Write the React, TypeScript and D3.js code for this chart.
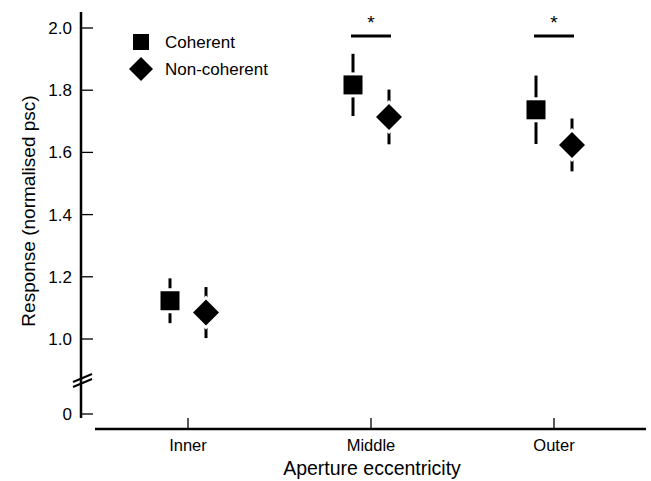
import React from 'react';
import * as d3 from 'd3';

const categories = ['Inner', 'Middle', 'Outer'];
const coherentMean = [1.123, 1.817, 1.737];
const coherentErr = [0.072, 0.1, 0.11];
const nonCoherentMean = [1.085, 1.714, 1.624];
const nonCoherentErr = [0.082, 0.088, 0.085];
const yTicks = [1.0, 1.2, 1.4, 1.6, 1.8, 2.0];
const significant = ['Middle', 'Outer'];

const W = 651;
const H = 481;
const font = '"Liberation Sans", Arial, Helvetica, sans-serif';

const App = () => {
  const axisX = 81;
  const axisY = 429;
  const zeroY = 414;

  const x = d3.scalePoint<string>().domain(categories).range([188, 554]);
  const y = d3.scaleLinear().domain([1.0, 2.0]).range([339, 28]);
  const offset = 18;
  const sq = 19;
  const dm = 13;

  const errBar = (cx: number, m: number, e: number, key: string) => (
    <line key={key} x1={cx} x2={cx} y1={y(m + e)} y2={y(m - e)} stroke="#000" strokeWidth={3} />
  );

  return (
    <div style={{ position: 'fixed', left: 0, top: 0 }}>
      <svg width={W} height={H} style={{ display: 'block', background: '#fff' }} fontFamily={font}>
        {/* y axis */}
        <line x1={axisX} x2={axisX} y1={12} y2={418} stroke="#000" strokeWidth={2.5} />
        {yTicks.map(t => (
          <g key={t}>
            <line x1={axisX} x2={axisX + 12} y1={y(t)} y2={y(t)} stroke="#000" strokeWidth={1.3} />
            <text x={72} y={y(t)} dy="0.35em" textAnchor="end" fontSize={17}>{d3.format('.1f')(t)}</text>
          </g>
        ))}
        <line x1={axisX} x2={axisX + 12} y1={zeroY} y2={zeroY} stroke="#000" strokeWidth={1.3} />
        <text x={72} y={zeroY} dy="0.35em" textAnchor="end" fontSize={17}>0</text>
        {/* axis break */}
        <line x1={73} x2={92} y1={382} y2={374} stroke="#000" strokeWidth={2} />
        <line x1={73} x2={92} y1={387} y2={379} stroke="#000" strokeWidth={2} />
        <text transform="translate(35,211) rotate(-90)" textAnchor="middle" fontSize={19}>
          Response (normalised psc)
        </text>

        {/* x axis */}
        <line x1={95} x2={646} y1={axisY} y2={axisY} stroke="#000" strokeWidth={2.5} />
        {categories.map(c => (
          <g key={c}>
            <line x1={x(c)} x2={x(c)} y1={axisY} y2={axisY - 11} stroke="#000" strokeWidth={1.3} />
            <text x={x(c)} y={445} dy="0.35em" textAnchor="middle" fontSize={16.5}>{c}</text>
          </g>
        ))}
        <text x={372} y={468} dy="0.35em" textAnchor="middle" fontSize={19.5}>Aperture eccentricity</text>

        {/* data */}
        {categories.map((c, i) => {
          const cx1 = (x(c) as number) - offset;
          const cx2 = (x(c) as number) + offset;
          const cy1 = y(coherentMean[i]);
          const cy2 = y(nonCoherentMean[i]);
          return (
            <g key={c}>
              {errBar(cx1, coherentMean[i], coherentErr[i], 'e1')}
              {errBar(cx2, nonCoherentMean[i], nonCoherentErr[i], 'e2')}
              <rect x={cx1 - sq / 2 - 3} y={cy1 - sq / 2 - 3} width={sq + 6} height={sq + 6} fill="#fff" />
              <rect x={cx1 - sq / 2} y={cy1 - sq / 2} width={sq} height={sq} fill="#000" />
              <path d={`M${cx2},${cy2 - dm - 4}L${cx2 + dm + 4},${cy2}L${cx2},${cy2 + dm + 4}L${cx2 - dm - 4},${cy2}Z`} fill="#fff" />
              <path d={`M${cx2},${cy2 - dm}L${cx2 + dm},${cy2}L${cx2},${cy2 + dm}L${cx2 - dm},${cy2}Z`} fill="#000" />
            </g>
          );
        })}

        {/* significance */}
        {significant.map(c => (
          <g key={c}>
            <line x1={(x(c) as number) - 20} x2={(x(c) as number) + 20} y1={36} y2={36} stroke="#000" strokeWidth={3} />
            <text x={x(c)} y={29} textAnchor="middle" fontSize={19}>*</text>
          </g>
        ))}

        {/* legend */}
        <rect x={141 - 8} y={42 - 8} width={16} height={16} fill="#000" />
        <path d="M141,57L153,69L141,81L129,69Z" fill="#000" />
        <text x={165} y={42} dy="0.35em" fontSize={17}>Coherent</text>
        <text x={165} y={69} dy="0.35em" fontSize={17}>Non-coherent</text>
      </svg>
    </div>
  );
};

export default App;
